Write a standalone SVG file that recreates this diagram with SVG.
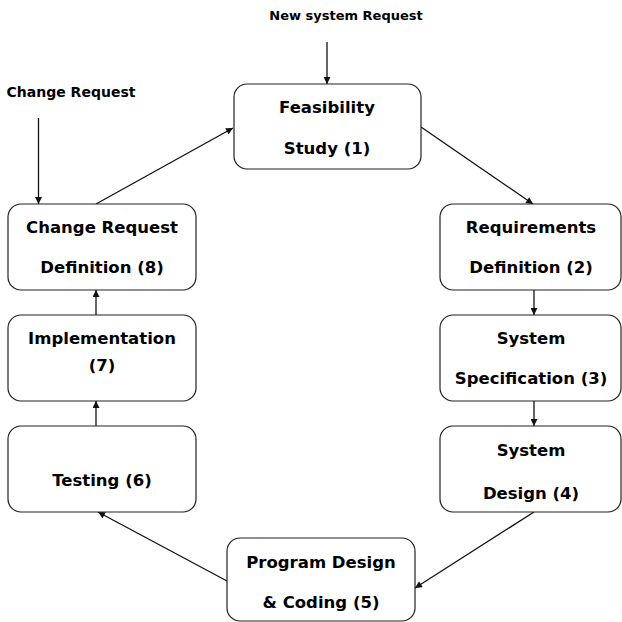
<svg xmlns="http://www.w3.org/2000/svg" width="622" height="622" viewBox="0 0 622 622">
  <style>
    .box { fill: #ffffff; stroke: #222222; stroke-width: 1.2; }
    .lbl { font-family: "DejaVu Sans", Verdana, sans-serif; font-weight: bold; font-size: 16.5px; fill: #000000; text-anchor: middle; }
    .small { font-family: "DejaVu Sans", Verdana, sans-serif; font-weight: bold; font-size: 13px; fill: #000000; text-anchor: middle; }
    .edge { stroke: #111111; stroke-width: 1.3; fill: none; marker-end: url(#arrow); }
  </style>
  <defs>
    <marker id="arrow" viewBox="0 0 10 10" refX="10" refY="5" markerWidth="8" markerHeight="7" markerUnits="userSpaceOnUse" orient="auto">
      <path d="M0,0 L10,5 L0,10 z" fill="#111111"/>
    </marker>
  </defs>
  <rect width="622" height="622" fill="#ffffff"/>

  <g id="connectors">
    <line class="edge" x1="327" y1="42" x2="327" y2="84"/>
    <line class="edge" x1="38.5" y1="118" x2="38.5" y2="204"/>
    <line class="edge" x1="96" y1="204" x2="233" y2="128"/>
    <line class="edge" x1="421" y1="127" x2="533" y2="204"/>
    <line class="edge" x1="534" y1="290" x2="534" y2="315"/>
    <line class="edge" x1="534" y1="401" x2="534" y2="426"/>
    <line class="edge" x1="534" y1="512" x2="415" y2="588"/>
    <line class="edge" x1="227" y1="581" x2="98" y2="512"/>
    <line class="edge" x1="96" y1="426" x2="96" y2="401"/>
    <line class="edge" x1="96" y1="315" x2="96" y2="290"/>
  </g>

  <g id="input-new-system">
    <text class="small" x="346" y="20">New system Request</text>
  </g>
  <g id="input-change">
    <text class="small" x="71" y="97" style="font-size:14px">Change Request</text>
  </g>

  <g id="feasibility">
    <rect class="box" x="234" y="84" width="187" height="85" rx="13"/>
    <text class="lbl" x="327" y="113">Feasibility</text>
    <text class="lbl" x="327" y="154">Study (1)</text>
  </g>
  <g id="requirements">
    <rect class="box" x="440" y="204" width="181" height="86" rx="13"/>
    <text class="lbl" x="531" y="233">Requirements</text>
    <text class="lbl" x="531" y="273">Definition (2)</text>
  </g>
  <g id="specification">
    <rect class="box" x="440" y="315" width="181" height="86" rx="13"/>
    <text class="lbl" x="531" y="344">System</text>
    <text class="lbl" x="531" y="384">Specification (3)</text>
  </g>
  <g id="design">
    <rect class="box" x="440" y="426" width="181" height="86" rx="13"/>
    <text class="lbl" x="531" y="456">System</text>
    <text class="lbl" x="531" y="499">Design (4)</text>
  </g>
  <g id="coding">
    <rect class="box" x="227" y="538" width="188" height="83" rx="13"/>
    <text class="lbl" x="321" y="568">Program Design</text>
    <text class="lbl" x="321" y="608">&amp; Coding (5)</text>
  </g>
  <g id="testing">
    <rect class="box" x="8" y="426" width="188" height="86" rx="13"/>
    <text class="lbl" x="102" y="486">Testing (6)</text>
  </g>
  <g id="implementation">
    <rect class="box" x="8" y="315" width="188" height="86" rx="13"/>
    <text class="lbl" x="102" y="344">Implementation</text>
    <text class="lbl" x="102" y="371">(7)</text>
  </g>
  <g id="change-definition">
    <rect class="box" x="8" y="204" width="188" height="86" rx="13"/>
    <text class="lbl" x="102" y="233">Change Request</text>
    <text class="lbl" x="102" y="273">Definition (8)</text>
  </g>
</svg>
